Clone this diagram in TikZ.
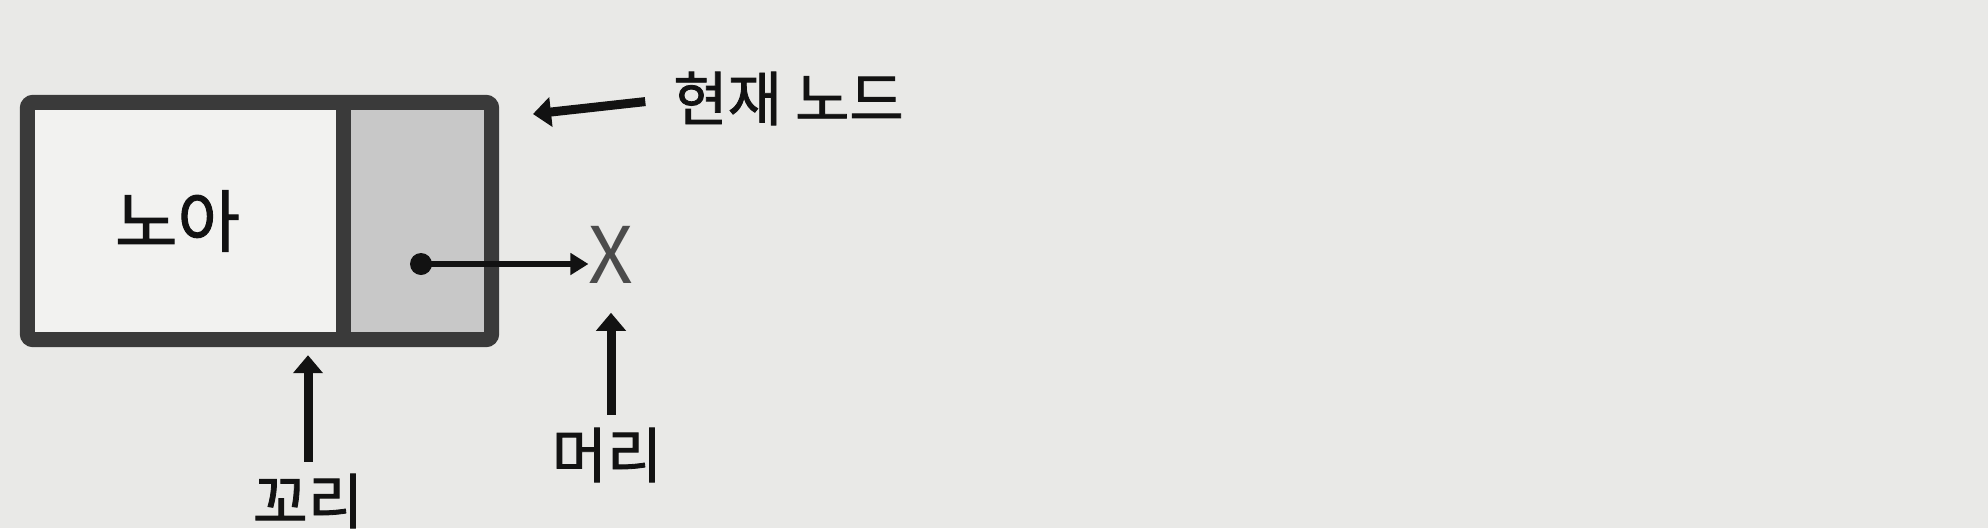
\documentclass[tikz,border=0pt]{standalone}
\usepackage{fontspec}
\setmainfont{Noto Sans CJK KR}[FakeBold=1.4]
\newfontfamily\xfont{Noto Sans CJK KR}
\usetikzlibrary{arrows.meta}
\definecolor{bgc}{RGB}{233,233,231}
\definecolor{cellw}{RGB}{242,242,240}
\definecolor{cellg}{RGB}{200,200,200}
\definecolor{framec}{RGB}{58,58,58}
\definecolor{inkc}{RGB}{18,18,18}
\definecolor{xc}{RGB}{75,75,75}
\tikzset{
  cellbox/.style={inner sep=0pt, minimum height=237pt},
  framestyle/.style={draw=framec, line width=15pt},
  lbl/.style={inner sep=0pt, text=inkc, font=\fontsize{60}{62}\selectfont},
  bigarrow/.style={draw=inkc, line width=9pt, -{Triangle[length=18pt,width=29pt]}},
  ptrarrow/.style={draw=inkc, line width=6pt, -{Triangle[length=18pt,width=21pt]}}
}
\begin{document}
\begin{tikzpicture}[x=1pt,y=-1pt]
\fill[bgc] (0,0) rectangle (1988,528);
\useasboundingbox (0,0) rectangle (1988,528);

% cells
\node[cellbox, fill=cellw, minimum width=316pt, text=inkc, font=\fontsize{68}{70}\selectfont] (data) at (185.5,221) {\hspace*{-16pt}노아};
\node[cellbox, fill=cellg, minimum width=148pt] (ptr) at (417.5,221) {};
\draw[framestyle, rounded corners=6pt] (data.north west) rectangle (ptr.south east);
\draw[framestyle] (data.north east) -- (data.south east);

% pointer dot and X
\node[circle, fill=inkc, inner sep=0pt, minimum size=22pt] (dot) at (421,264) {};
\node[inner sep=0pt, text=xc, font=\xfont\fontsize{78}{80}\selectfont] (X) at (611,255) {X};
\draw[ptrarrow] (dot.center) -- (dot.center -| X.west);

% labels
\node[lbl, font=\fontsize{59}{61}\selectfont] (cur) at (788.5,98.5) {현재 노드};
\coordinate (curtip) at (533,114);
\draw[bigarrow, shorten <=28pt] (cur.west) -- (curtip);

\node[lbl] (headlbl) at (607,455) {머리};
\draw[bigarrow, shorten <=13pt, shorten >=29pt] (headlbl.north -| X.south) -- (X.south);

\node[lbl] (taillbl) at (308,501) {꼬리};
\draw[bigarrow, shorten <=12pt, shorten >=15.5pt] (taillbl.north) -- (taillbl.north |- data.south);
\end{tikzpicture}
\end{document}
